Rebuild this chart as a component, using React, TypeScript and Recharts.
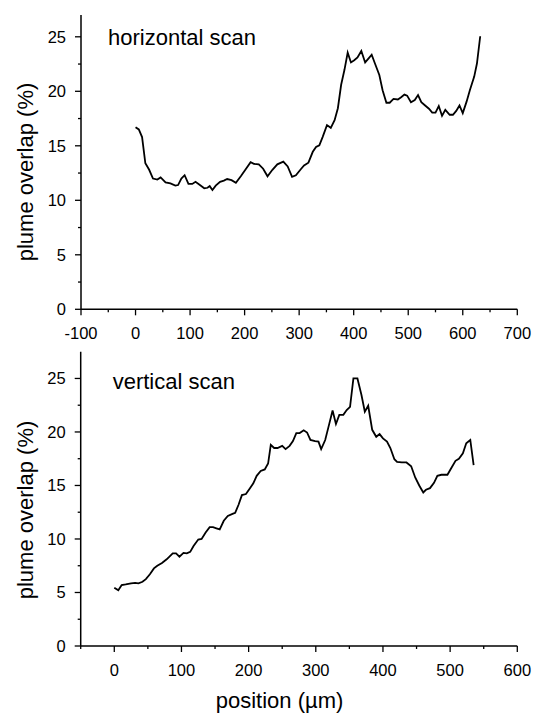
import { LineChart, Line, XAxis, YAxis, Label } from "recharts"

// horizontal scan (top panel)
const hPosition = [
  0, 6, 12, 18, 25, 32, 40, 46, 55, 64, 73, 78, 84, 90, 97, 104, 110, 118, 126, 132, 136, 141, 147,
  155, 162, 168, 176, 184, 193, 202, 211, 217, 226, 234, 242, 251, 260, 271, 279, 287, 294, 303, 309,
  317, 325, 331, 337, 343, 351, 358, 365, 371, 377, 383, 389, 395, 401, 407, 414, 421, 427, 433, 439,
  447, 453, 460, 466, 473, 481, 487, 493, 498, 505, 512, 518, 524, 531, 538, 544, 550, 556, 562, 568,
  576, 582, 588, 594, 600, 607, 613, 621, 626, 632,
]
const hOverlap = [
  16.7, 16.5, 15.8, 13.4, 12.8, 12.0, 11.9, 12.1, 11.65, 11.55, 11.35, 11.4, 12.0, 12.3, 11.5, 11.5,
  11.7, 11.4, 11.1, 11.15, 11.3, 10.95, 11.35, 11.7, 11.8, 11.95, 11.85, 11.6, 12.2, 12.85, 13.5, 13.35,
  13.3, 12.9, 12.2, 12.8, 13.3, 13.55, 13.1, 12.15, 12.3, 12.85, 13.2, 13.45, 14.45, 14.9, 15.05, 15.8,
  16.9, 16.65, 17.35, 18.45, 20.6, 21.95, 23.55, 22.65, 22.85, 23.1, 23.7, 22.65, 23.0, 23.35, 22.55,
  21.5, 20.1, 18.95, 18.95, 19.3, 19.25, 19.45, 19.7, 19.6, 19.0, 19.2, 19.65, 19.0, 18.7, 18.4, 18.05,
  18.05, 18.65, 17.75, 18.3, 17.85, 17.85, 18.2, 18.7, 18.0, 19.05, 20.1, 21.35, 22.55, 25.05,
]

// vertical scan (bottom panel)
const vPosition = [
  0, 6, 11, 17, 25, 31, 36, 42, 47, 53, 59, 64, 71, 78, 87, 92, 97, 103, 108, 113, 118, 125, 130, 136,
  142, 147, 152, 157, 163, 169, 176, 180, 185, 190, 196, 202, 207, 212, 218, 224, 229, 233, 238, 243,
  250, 255, 261, 266, 271, 276, 282, 287, 292, 299, 304, 308, 314, 319, 325, 330, 335, 341, 346, 351,
  356, 362, 368, 373, 378, 384, 390, 395, 400, 406, 411, 417, 421, 428, 435, 442, 448, 454, 460, 464,
  470, 476, 481, 487, 496, 502, 508, 513, 519, 524, 530, 535,
]
const vOverlap = [
  5.45, 5.2, 5.7, 5.75, 5.85, 5.9, 5.85, 6.0, 6.25, 6.7, 7.25, 7.5, 7.75, 8.1, 8.65, 8.65, 8.35, 8.7,
  8.65, 8.8, 9.35, 9.95, 10.0, 10.6, 11.1, 11.1, 11.0, 10.9, 11.7, 12.15, 12.35, 12.45, 13.2, 14.1, 14.2,
  14.75, 15.2, 15.9, 16.35, 16.5, 17.05, 18.8, 18.5, 18.5, 18.7, 18.4, 18.7, 19.15, 19.9, 19.9, 20.15,
  19.95, 19.25, 19.15, 19.1, 18.4, 19.25, 20.5, 22.0, 20.75, 21.6, 21.6, 22.05, 22.35, 25.0, 25.0, 23.45,
  21.9, 22.45, 20.2, 19.55, 19.8, 19.4, 19.1, 18.5, 17.45, 17.2, 17.15, 17.15, 16.8, 15.75, 15.0, 14.35,
  14.6, 14.75, 15.25, 15.9, 16.0, 16.0, 16.65, 17.3, 17.5, 18.0, 18.95, 19.25, 16.9,
]

const hTicks = [-100, -50, 0, 50, 100, 150, 200, 250, 300, 350, 400, 450, 500, 550, 600, 650, 700]
const vTicks = [-50, 0, 50, 100, 150, 200, 250, 300, 350, 400, 450, 500, 550, 600]
const yTicks = [0, 2.5, 5, 7.5, 10, 12.5, 15, 17.5, 20, 22.5, 25]

const hData = hPosition.map((x, i) => ({ x, y: hOverlap[i] }))
const vData = vPosition.map((x, i) => ({ x, y: vOverlap[i] }))

const FONT = '"Liberation Sans", Arial, sans-serif'

function YTick(props: any) {
  const { x, y, payload } = props
  const major = payload.value % 5 === 0
  return (
    <g>
      <line x1={x} x2={x - (major ? 6 : 3)} y1={y} y2={y} stroke="#000" strokeWidth={1.3} />
      {major && (
        <text x={x - 15} y={y} dy="0.36em" textAnchor="end" fontSize={16.5} fill="#000">
          {payload.value}
        </text>
      )}
    </g>
  )
}

function XTick(props: any) {
  const { x, y, payload } = props
  const major = payload.value % 100 === 0
  return (
    <g>
      <line x1={x} x2={x} y1={y} y2={y + (major ? 6 : 3)} stroke="#000" strokeWidth={1.3} />
      {major && (
        <text x={x} y={y + 29.5} textAnchor="middle" fontSize={16.5} fill="#000">
          {payload.value}
        </text>
      )}
    </g>
  )
}

const axisLine = { stroke: "#000", strokeWidth: 1.5 }

function Panel({
  data,
  xDomain,
  xTicks,
  yMax,
  height,
  margin,
  title,
  titleX,
  titleY,
  yLabelY,
  xLabel,
}: any) {
  return (
    <LineChart width={535} height={height} data={data} margin={margin}>
      <XAxis
        dataKey="x"
        type="number"
        domain={xDomain}
        ticks={xTicks}
        interval={0}
        allowDataOverflow
        height={40}
        axisLine={axisLine}
        tickLine={false}
        tickSize={0}
        tickMargin={0}
        tick={<XTick />}
      >
        {xLabel && (
          <Label
            content={() => (
              <text x={279.5} y={368} textAnchor="middle" fontSize={22} fill="#000">
                {xLabel}
              </text>
            )}
          />
        )}
      </XAxis>
      <YAxis
        type="number"
        domain={[0, yMax]}
        ticks={yTicks}
        interval={0}
        allowDataOverflow
        width={60}
        axisLine={axisLine}
        tickLine={false}
        tickSize={0}
        tickMargin={0}
        tick={<YTick />}
      >
        <Label
          content={() => (
            <text
              x={32.5}
              y={yLabelY}
              transform={`rotate(-90 32.5 ${yLabelY})`}
              textAnchor="middle"
              fontSize={22}
              fill="#000"
            >
              plume overlap (%)
            </text>
          )}
        />
        <Label
          content={() => (
            <text x={titleX} y={titleY} fontSize={22} fill="#000">
              {title}
            </text>
          )}
        />
      </YAxis>
      <Line
        type="linear"
        dataKey="y"
        stroke="#000"
        strokeWidth={1.8}
        dot={false}
        isAnimationActive={false}
      />
    </LineChart>
  )
}

export default function App() {
  return (
    <div
      style={{
        position: "absolute",
        left: 0,
        top: 0,
        width: 535,
        height: 713,
        background: "#fff",
        fontFamily: FONT,
      }}
    >
      <div style={{ position: "absolute", left: 0, top: 0 }}>
        <Panel
          data={hData}
          xDomain={[-100, 700]}
          xTicks={hTicks}
          yMax={27}
          height={360}
          margin={{ top: 15, right: 17.7, bottom: 10.7, left: 21 }}
          title="horizontal scan"
          titleX={108}
          titleY={45}
          yLabelY={172}
        />
      </div>
      <div style={{ position: "absolute", left: 0, top: 340 }}>
        <Panel
          data={vData}
          xDomain={[-50, 600]}
          xTicks={vTicks}
          yMax={27.5}
          height={373}
          margin={{ top: 11.7, right: 17.7, bottom: 27, left: 20.7 }}
          title="vertical scan"
          titleX={112.7}
          titleY={49}
          yLabelY={170}
          xLabel="position (µm)"
        />
      </div>
    </div>
  )
}
